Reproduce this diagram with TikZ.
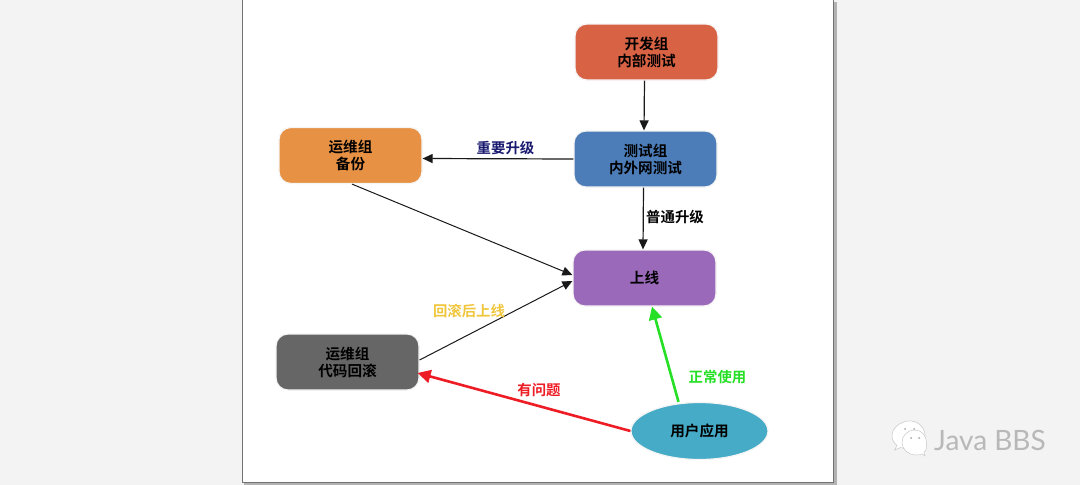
\documentclass[tikz,border=0pt]{standalone}
\usepackage{fontspec}
\setmainfont{Lato}
\newfontfamily\cjk{Noto Sans CJK SC}[BoldFont={Noto Sans CJK SC Bold}]
\usetikzlibrary{arrows.meta,shapes.geometric}
\definecolor{pagebg}{HTML}{F3F3F3}
\definecolor{cdev}{HTML}{D86244}
\definecolor{ctest}{HTML}{4C7DB8}
\definecolor{cbak}{HTML}{E79145}
\definecolor{conl}{HTML}{9A69B9}
\definecolor{crol}{HTML}{666666}
\definecolor{cusr}{HTML}{46ABC6}
\definecolor{lnavy}{HTML}{1A1A70}
\definecolor{lyell}{HTML}{F0C63C}
\definecolor{lred}{HTML}{EE1C24}
\definecolor{lgreen}{HTML}{25E025}
\tikzset{
  x=1pt,y=-1pt,
  flow/.style={rounded corners=12pt,minimum width=143pt,minimum height=56pt,draw=black!4,line width=1.2pt,inner sep=0pt},
  boxtext/.style={font=\cjk\bfseries\fontsize{14.6}{17}\selectfont,align=center,text=black},
  lab/.style={font=\cjk\bfseries\fontsize{14.4}{15}\selectfont,inner sep=0pt},
  blk/.style={draw=black!90,line width=1.2pt,-{Triangle[length=10pt,width=9pt]}},
  thinarr/.style={draw=black!90,line width=1pt,-{Triangle[length=10pt,width=9pt]}},
  bold/.style={line width=2.6pt,-{Triangle[length=13pt,width=13pt]}},
  bubble/.style={fill=white,draw=black!22,line width=0.5pt}
}
\begin{document}
\begin{tikzpicture}
\useasboundingbox (0,0) rectangle (1080,485);
\fill[pagebg] (0,0) rectangle (1080,485);
% paper with shadow
\fill[black!30] (244,2) rectangle (837,485);
\fill[black!55] (242,0) rectangle (834,483);
\fill[white] (243,0) rectangle (833,482);
% boxes
\node[flow,fill=cdev,boxtext] (dev) at (646.5,52) {开发组\\内部测试};
\node[flow,fill=ctest,boxtext] (test) at (645.5,159) {测试组\\内外网测试};
\node[flow,fill=cbak,boxtext] (bak) at (350.5,155.5) {运维组\\备份};
\node[flow,fill=conl,boxtext] (onl) at (644.5,278) {上线};
\node[flow,fill=crol,boxtext] (rol) at (347.5,362) {运维组\\代码回滚};
\node[ellipse,draw=black!4,line width=1.2pt,fill=cusr,minimum width=137pt,minimum height=57pt,inner sep=0pt,boxtext] (usr) at (699.5,431) {用户应用};
% connectors
\draw[blk] ([xshift=-2pt]dev.south) -- ([xshift=-1.5pt]test.north);
\draw[blk] (test.west) -- ([yshift=-3pt]bak.east);
\draw[blk] ([xshift=-2pt]test.south) -- ([xshift=-1.5pt]onl.north);
\draw[thinarr] ([xshift=1.5pt]bak.south) -- ([yshift=3pt]onl.west);
\draw[thinarr] ([yshift=2pt]rol.east) -- ([yshift=-3pt]onl.west);
\draw[bold,draw=lred,fill=lred] (usr.west) -- ([xshift=-2pt,yshift=-11pt]rol.east);
\draw[bold,draw=lgreen,fill=lgreen] ([xshift=-21pt]usr.north) -- ([xshift=7.5pt]onl.south);
% labels
\node[lab,text=lnavy] (l1) at (505.5,148.5) {\cjk 重要升级};
\node[lab,text=black] (l2) at (675,217) {\cjk 普通升级};
\node[lab,text=lyell] (l3) at (469,310.5) {\cjk 回滚后上线};
\node[lab,text=lred] (l4) at (539,390.5) {\cjk 有问题};
\node[lab,text=lgreen] (l5) at (717.5,377) {\cjk 正常使用};
% watermark
\begin{scope}
\draw[bubble] (908,421) .. controls (900,422) and (892,428) .. (892,435.5) .. controls (892,440) and (894,443) .. (897,445.5) -- (894.5,450) -- (900.5,447.5) .. controls (903,448.5) and (906,449) .. (909,449) .. controls (918,449) and (925,443) .. (925,435) .. controls (925,427) and (917,420) .. (908,421) -- cycle;
\draw[bubble] (915,430) .. controls (907,430) and (902,436) .. (902,442.5) .. controls (902,449) and (908,455) .. (916,455) .. controls (918,455) and (920,455) .. (922,454) -- (925,456) -- (924,452.5) .. controls (927,450) and (926.5,446.5) .. (926.5,443) .. controls (926.5,436) and (922,430) .. (915,430) -- cycle;
\fill[black!35] (905,429) circle (1pt) (914,429) circle (1pt) (911,438) circle (1pt) (919,438) circle (1pt);
\end{scope}
\node[font=\fontsize{28}{30}\selectfont,text=black!28,anchor=west,inner sep=0pt] (wm) at (934,440) {Java BBS};
\end{tikzpicture}
\end{document}
